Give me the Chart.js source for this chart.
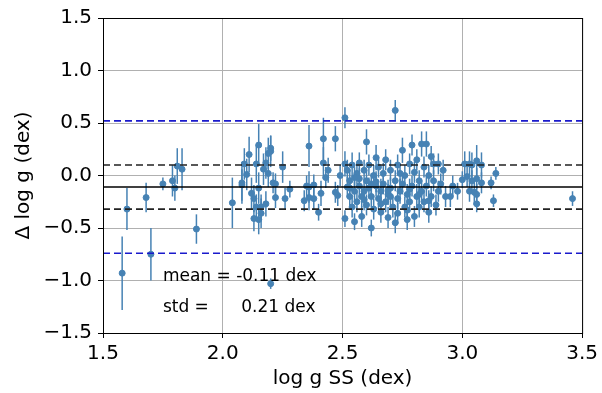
<!DOCTYPE html>
<html>
<head>
<meta charset="utf-8">
<script src="https://cdn.jsdelivr.net/npm/chart.js@4.4.0/dist/chart.umd.min.js"></script>
<style>
  html, body { margin: 0; padding: 0; background: #fff; }
  #wrap { width: 602px; height: 393px; }
</style>
</head>
<body>
<div id="wrap"><canvas id="c" width="602" height="393"></canvas></div>
<script>
// log g from SS (x), difference (y), error bar half-length
const loggSS = [
  1.58, 1.60, 1.68, 1.70, 1.75, 1.79, 1.80, 1.81, 1.83, 1.89,
  2.04, 2.08, 2.08, 2.09, 2.10, 2.11, 2.12, 2.13, 2.13, 2.14, 2.14, 2.15, 2.15, 2.15, 2.16, 2.16,
  2.17, 2.18, 2.18, 2.19, 2.19, 2.20, 2.20, 2.20, 2.21, 2.22, 2.22, 2.25, 2.26, 2.28,
  2.34, 2.35, 2.36, 2.36, 2.36, 2.38, 2.38, 2.40, 2.41, 2.42, 2.42, 2.43, 2.44,
  2.47, 2.47, 2.48, 2.49,
  2.51, 2.51, 2.51, 2.52, 2.52, 2.53, 2.53, 2.54, 2.54, 2.55, 2.55, 2.56, 2.56, 2.57, 2.57,
  2.58, 2.58, 2.59, 2.59, 2.60, 2.60, 2.60, 2.61, 2.61, 2.62, 2.62, 2.63, 2.63, 2.64, 2.64,
  2.65, 2.65, 2.66, 2.66, 2.67, 2.67, 2.68, 2.68, 2.69, 2.69, 2.70, 2.70, 2.71, 2.72, 2.72,
  2.72, 2.73, 2.73, 2.74, 2.75, 2.75, 2.76, 2.76, 2.77, 2.77, 2.78, 2.78, 2.79, 2.79, 2.80,
  2.80, 2.81, 2.81, 2.82, 2.82, 2.83, 2.83, 2.84, 2.84, 2.85, 2.85, 2.86, 2.86, 2.87, 2.87,
  2.88, 2.88, 2.89, 2.90, 2.90, 2.91, 2.92, 2.93, 2.95, 2.96, 2.98,
  2.53, 2.57, 2.62, 2.66, 2.70, 2.74, 2.78, 2.82, 2.86, 2.64, 2.69, 2.77, 2.59, 2.55, 2.73,
  3.00, 3.01, 3.02, 3.03, 3.04, 3.03, 3.04, 3.05, 3.06, 3.06, 3.06, 3.06, 3.08, 3.08,
  3.12, 3.13, 3.14, 3.46
];
const deltaLogg = [
  -0.93, -0.32, -0.21, -0.75, -0.08, -0.05, -0.12, 0.09, 0.06, -0.51,
  -0.26, -0.07, -0.09, 0.11, 0.01, 0.20, -0.17, -0.22, -0.41, 0.11, -0.30, -0.42, 0.29, -0.12, -0.36, -0.30,
  0.06, -0.27, 0.12, 0.21, 0.02, 0.23, 0.26, -1.03, -0.07, -0.21, -0.08, 0.08, -0.22, -0.13,
  -0.24, -0.10, 0.28, -0.11, -0.21, -0.22, -0.09, -0.35, -0.17, 0.12, 0.35, -0.02, 0.05,
  0.35, -0.16, -0.19, 0.00,
  0.55, 0.11, -0.41, -0.11, 0.05, -0.20, -0.05, 0.10, -0.30, -0.44, -0.15, 0.02, -0.25, 0.12, -0.10,
  -0.20, -0.39, 0.05, -0.15, 0.32, -0.05, -0.28, -0.12, 0.10, -0.50, -0.20, 0.00, -0.32, 0.17, -0.10,
  -0.22, 0.08, -0.15, -0.35, 0.02, -0.08, 0.15, -0.25, -0.18, -0.40, 0.05, -0.12, -0.30, 0.62, -0.45,
  -0.05, 0.10, -0.22, -0.15, 0.24, -0.08, -0.30, 0.00, -0.42, -0.18, 0.11, -0.25, 0.29, -0.10, -0.39,
  0.03, -0.20, 0.15, -0.05, -0.30, 0.30, -0.15, 0.08, -0.25, 0.30, -0.10, 0.00, -0.35, 0.18, -0.20,
  0.11, -0.05, -0.28, 0.11, -0.15, -0.08, 0.05, -0.20, -0.20, -0.10, -0.15,
  -0.12, -0.03, -0.08, -0.27, -0.20, 0.02, -0.13, -0.18, -0.24, -0.06, -0.14, -0.33, -0.23, -0.02, -0.36,
  -0.04, 0.11, -0.01, 0.11, 0.10, -0.15, -0.05, -0.16, 0.14, -0.03, -0.18, -0.27, 0.10, -0.07,
  -0.07, -0.24, 0.02, -0.22
];
const errLogg = [
  0.35, 0.20, 0.14, 0.25, 0.06, 0.15, 0.12, 0.17, 0.20, 0.14,
  0.24, 0.20, 0.15, 0.15, 0.15, 0.17, 0.15, 0.13, 0.12, 0.18, 0.12, 0.14, 0.20, 0.15, 0.14, 0.12,
  0.15, 0.12, 0.15, 0.15, 0.13, 0.15, 0.12, 0.05, 0.10, 0.10, 0.10, 0.15, 0.10, 0.08,
  0.10, 0.10, 0.20, 0.15, 0.12, 0.10, 0.10, 0.08, 0.12, 0.15, 0.20, 0.10, 0.12,
  0.12, 0.10, 0.10, 0.10,
  0.10, 0.12, 0.08, 0.10, 0.10, 0.12, 0.10, 0.12, 0.10, 0.08, 0.10, 0.10, 0.10, 0.10, 0.12,
  0.10, 0.10, 0.10, 0.10, 0.12, 0.10, 0.10, 0.10, 0.10, 0.08, 0.10, 0.10, 0.10, 0.12, 0.10,
  0.10, 0.10, 0.12, 0.10, 0.10, 0.10, 0.10, 0.10, 0.10, 0.10, 0.10, 0.10, 0.10, 0.10, 0.10,
  0.10, 0.10, 0.10, 0.12, 0.12, 0.10, 0.10, 0.10, 0.10, 0.10, 0.10, 0.10, 0.10, 0.10, 0.10,
  0.10, 0.12, 0.10, 0.10, 0.10, 0.12, 0.10, 0.10, 0.10, 0.12, 0.10, 0.10, 0.10, 0.10, 0.10,
  0.10, 0.10, 0.10, 0.10, 0.10, 0.10, 0.10, 0.10, 0.10, 0.10, 0.08,
  0.10, 0.10, 0.10, 0.10, 0.10, 0.10, 0.10, 0.10, 0.10, 0.10, 0.10, 0.10, 0.10, 0.10, 0.10,
  0.08, 0.12, 0.10, 0.12, 0.12, 0.10, 0.10, 0.12, 0.15, 0.10, 0.10, 0.08, 0.12, 0.10,
  0.06, 0.06, 0.06, 0.07
];

// summary lines
const meanDiff = -0.11;
const stdLines = [0.10, -0.32];
const threeSigLines = [0.52, -0.74];
const xRange = [1.5, 3.5];
const statLabels = ['mean = -0.11 dex', 'std =      0.21 dex'];
const statLabelPos = [[1.75, -0.96], [1.75, -1.26]];

const pointColor = '#4682b4';
const points = loggSS.map((x, i) => ({ x: x, y: deltaLogg[i], e: errLogg[i] }));

function hline(y, color, dash) {
  return {
    type: 'line',
    data: [{ x: xRange[0], y: y }, { x: xRange[1], y: y }],
    borderColor: color,
    borderWidth: 1.6,
    borderDash: dash,
    pointRadius: 0,
    fill: false,
    order: 0
  };
}

// error bars drawn under the markers
const errorBars = {
  id: 'errorBars',
  beforeDatasetsDraw(chart) {
    const ctx = chart.ctx, xs = chart.scales.x, ys = chart.scales.y;
    ctx.save();
    ctx.strokeStyle = pointColor;
    ctx.lineWidth = 1.5;
    points.forEach(p => {
      const px = xs.getPixelForValue(p.x);
      ctx.beginPath();
      ctx.moveTo(px, ys.getPixelForValue(p.y - p.e));
      ctx.lineTo(px, ys.getPixelForValue(p.y + p.e));
      ctx.stroke();
    });
    ctx.restore();
  }
};

// full box + stats text
const frame = {
  id: 'frame',
  afterDraw(chart) {
    const ctx = chart.ctx, a = chart.chartArea;
    const xs = chart.scales.x, ys = chart.scales.y;
    ctx.save();
    ctx.strokeStyle = '#000';
    ctx.lineWidth = 1;
    ctx.strokeRect(a.left + 0.5, a.top + 0.5, a.right - a.left, a.bottom - a.top);
    ctx.fillStyle = '#000';
    ctx.font = '17px "DejaVu Sans"';
    ctx.textBaseline = 'middle';
    statLabels.forEach((t, i) => {
      ctx.fillText(t, xs.getPixelForValue(statLabelPos[i][0]), ys.getPixelForValue(statLabelPos[i][1]));
    });
    ctx.restore();
  }
};

new Chart(document.getElementById('c'), {
  type: 'scatter',
  data: {
    datasets: [
      {
        data: points,
        backgroundColor: pointColor,
        borderColor: pointColor,
        pointRadius: 3,
        pointHoverRadius: 3,
        order: 1
      },
      hline(threeSigLines[0], '#1a1acc', [7, 4]),
      hline(threeSigLines[1], '#1a1acc', [7, 4]),
      hline(stdLines[0], '#222', [7, 4]),
      hline(stdLines[1], '#222', [7, 4]),
      hline(meanDiff, '#000', [])
    ]
  },
  options: {
    responsive: false,
    animation: false,
    events: [],
    layout: { padding: { left: 0, right: 19, top: 17, bottom: 0 } },
    plugins: { legend: { display: false }, tooltip: { enabled: false } },
    scales: {
      x: {
        min: 1.5, max: 3.5,
        afterFit: s => { s.height = 60; },
        ticks: { stepSize: 0.5, color: '#000', font: { family: 'DejaVu Sans', size: 20 }, padding: 4,
                 callback: v => v.toFixed(1) },
        grid: { color: '#b0b0b0', lineWidth: 1, tickLength: 5, tickColor: '#000' },
        border: { color: '#000', width: 1 },
        title: { display: true, text: 'log g SS (dex)', color: '#000',
                 font: { family: 'DejaVu Sans', size: 20 }, padding: { top: 0, bottom: 2 } }
      },
      y: {
        min: -1.5, max: 1.5,
        afterFit: s => { s.width = 103; },
        ticks: { stepSize: 0.5, color: '#000', font: { family: 'DejaVu Sans', size: 20 }, padding: 6,
                 callback: v => v.toFixed(1).replace('-', '\u2212') },
        grid: { color: '#b0b0b0', lineWidth: 1, tickLength: 5, tickColor: '#000' },
        border: { color: '#000', width: 1 },
        title: { display: true, text: '\u0394 log g (dex)', color: '#000',
                 font: { family: 'DejaVu Sans', size: 20 }, padding: { top: 12, bottom: 0 } }
      }
    }
  },
  plugins: [errorBars, frame]
});
</script>
</body>
</html>
